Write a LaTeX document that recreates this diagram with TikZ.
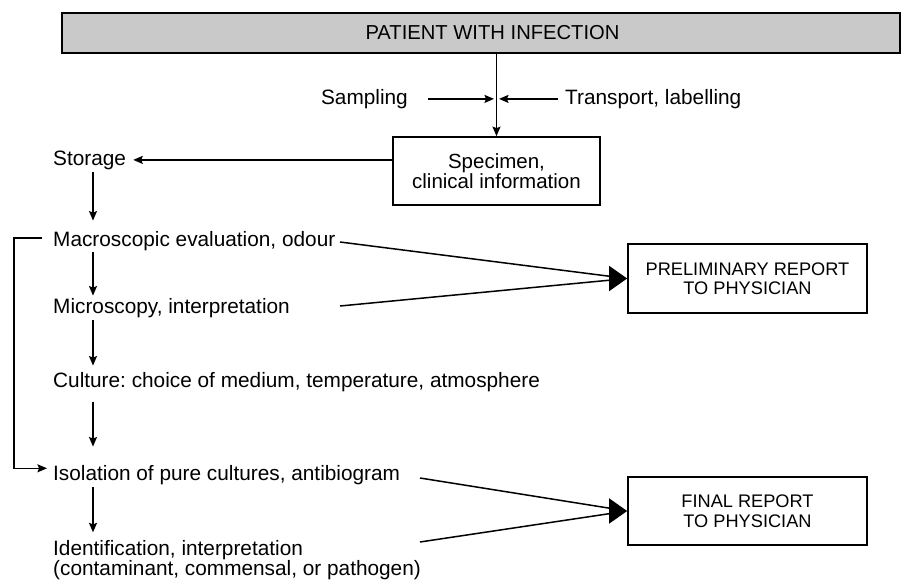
\documentclass[tikz,border=0pt]{standalone}
\usepackage{fontspec}
\setmainfont{Liberation Sans}
\usetikzlibrary{arrows.meta,calc}
\frenchspacing
\begin{document}
\frenchspacing
\begin{tikzpicture}[x=1pt,y=-1pt,
  arr/.style={line width=1.45pt,-{Stealth[length=9.5pt,width=8pt,inset=1.5pt]}},
  ln/.style={line width=1.5pt},
  bigtip/.style={line width=1.5pt,-{Triangle[length=18pt,width=25pt]}},
  box/.style={draw,line width=1.7pt,inner sep=0pt,align=center},
  txt/.style={font=\fontsize{20.8pt}{20pt}\selectfont,inner sep=0pt,text height=14.9pt,text depth=4.4pt,anchor=west},
  multitxt/.style={font=\fontsize{20.8pt}{20pt}\selectfont,inner sep=0pt,anchor=west,align=left},
  rep/.style={box,font=\fontsize{18.2pt}{19.5pt}\selectfont,minimum width=239pt,minimum height=68.5pt}]
\useasboundingbox (0,0) rectangle (906,581);
% boxes
\node[box,fill=gray!42,minimum width=838pt,minimum height=40pt,font=\fontsize{20.2pt}{20pt}\selectfont] (patient) at (481,33) {\hspace*{23pt}PATIENT WITH INFECTION};
\node[box,font=\fontsize{20.5pt}{20pt}\selectfont,minimum width=207pt,minimum height=68pt] (specimen) at (496.5,171) {Specimen,\\clinical information};
\node[rep] (prelim) at (747.5,278.5) {PRELIMINARY REPORT\\TO PHYSICIAN};
\node[rep] (final) at (747.5,511) {FINAL REPORT\\TO PHYSICIAN};
% texts
\node[txt,anchor=east] (sampling) at (408,98.9) {Sampling};
\node[txt] (transport) at (565,98.9) {Transport, labelling};
\node[txt] (storage) at (53,159.9) {Storage};
\node[txt] (macro) at (53,240.9) {Macroscopic evaluation, odour};
\node[txt] (micro) at (53,307.9) {Microscopy, interpretation};
\node[txt] (culture) at (53,381.9) {Culture: choice of medium, temperature, atmosphere};
\node[txt] (isolation) at (53,474.9) {Isolation of pure cultures, antibiogram};
\node[multitxt] (ident) at (53,560) {Identification, interpretation\\(contaminant, commensal, or pathogen)};
% helper coordinates
\coordinate (col) at (93,0);
\coordinate (junc) at (specimen.north |- sampling.east);
\coordinate (p1) at (340,242);
\coordinate (p2) at (340,306);
\coordinate (f1) at (420,478);
\coordinate (f2) at (420,542);
% main flow
\draw[arr] (specimen.north |- patient.south) -- (specimen.north);
\draw[arr] ($(sampling.east)+(20,0)$) -- ($(junc)+(-2.5,0)$);
\draw[arr] ($(transport.west)+(-7,0)$) -- ($(junc)+(2.5,0)$);
\draw[arr] (specimen.west |- storage.east) -- ($(storage.east)+(7,0)$);
\draw[arr] ($(storage.south -| col)+(0,2.7)$) -- ($(macro.north -| col)+(0,-10.5)$);
\draw[arr] ($(macro.south -| col)+(0,1.2)$) -- ($(micro.north -| col)+(0,-2.5)$);
\draw[arr] ($(micro.south -| col)+(0,2.7)$) -- ($(culture.north -| col)+(0,-6.5)$);
\draw[arr] ($(culture.south -| col)+(0,10.6)$) -- ($(isolation.north -| col)+(0,-18.5)$);
\draw[arr] ($(isolation.south -| col)+(0,2.7)$) -- ($(isolation.south -| col)+(0,47.6)$);
% bracket
\draw[arr] ($(macro.west)+(-11,-3)$) -- ++(-28,0) |- ($(isolation.west)+(-6,-6.6)$);
% reports
\draw[ln,shorten >=12pt] (p1) -- (prelim.west);
\draw[ln,shorten >=12pt] (p2) -- (prelim.west);
\draw[bigtip] ($(prelim.west)+(-2,0)$) -- (prelim.west);
\draw[ln,shorten >=12pt] (f1) -- (final.west);
\draw[ln,shorten >=12pt] (f2) -- (final.west);
\draw[bigtip] ($(final.west)+(-2,0)$) -- (final.west);
\end{tikzpicture}
\end{document}
